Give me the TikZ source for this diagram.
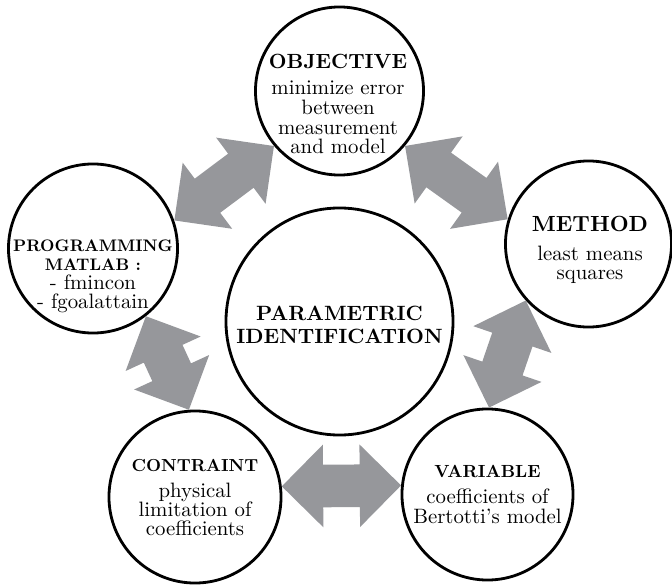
\documentclass[tikz,border=0pt]{standalone}
\usepackage{fontspec}
\setmainfont{lmroman10}[Extension=.otf, UprightFont=*-regular, BoldFont=*-bold]
\usetikzlibrary{shapes.arrows,calc}
\definecolor{arrowgray}{RGB}{150,151,155}
\tikzset{
	bubble/.style={circle, draw, line width=2pt, inner sep=0pt},
	bubbletext/.style={align=center, inner sep=0pt, font=\fontsize{14.8}{13.6}\selectfont},
	twoway/.style={double arrow, fill=arrowgray, inner xsep=0pt, inner ysep=0.525cm,
		minimum width=2.05cm, double arrow head extend=0.5cm, double arrow tip angle=90}
}
\begin{document}
\begin{tikzpicture}[x=0.025cm, y=-0.025cm]
				\useasboundingbox (0,0) rectangle (672,585);
				
				% Círculos
				\node[bubble, minimum size=5.675cm] (ident) at (339.5,321.5) {};
				\node[bubble, minimum size=4.2cm] (obj) at (339.5,91) {};
				\node[bubble, minimum size=4.15cm] (meth) at (588.5,244) {};
				\node[bubble, minimum size=4.225cm] (prog) at (93,248.5) {};
				\node[bubble, minimum size=4.3cm] (cons) at (195,497) {};
				\node[bubble, minimum size=4.275cm] (var) at (487.5,494.5) {};
				
				% Textos
				\node[bubbletext, font=\fontsize{14.7}{16}\selectfont\bfseries] (identtxt) at (339.5,325)
				{PARAMETRIC\\ IDENTIFICATION};
				\node[bubbletext, font=\fontsize{14.8}{14}\selectfont] (objtxt) at (338,104)
				{{\fontsize{14.6}{14}\selectfont\bfseries OBJECTIVE}\\[5pt] minimize error\\ between\\ measurement\\ and model};
				\node[bubbletext, font=\fontsize{14.8}{13.6}\selectfont] (methtxt) at (590,250)
				{{\fontsize{15.6}{14}\selectfont\bfseries METHOD}\\[6.5pt] least means\\ squares};
				\node[bubbletext] (progtxt) at (93,276.5)
				{{\fontsize{11.9}{12}\selectfont\bfseries PROGRAMMING}\\ {\fontsize{11.9}{12}\selectfont\bfseries MATLAB :}\\ - fmincon\\ - fgoalattain};
				\node[bubbletext] (constxt) at (195,497.5)
				{{\fontsize{12.4}{12}\selectfont\bfseries CONTRAINT}\\[5pt] physical\\ limitation of\\ coefficients};
				\node[bubbletext, font=\fontsize{14.8}{14.2}\selectfont] (vartxt) at (487.5,494)
				{{\fontsize{12.5}{12}\selectfont\bfseries VARIABLE}\\[4.3pt] coefficients of\\ Bertotti's model};
				
				% Flechas dobles entre los círculos
				\path let \p1=($(obj.220)-(prog.19)$), \n1={veclen(\x1,\y1)}, \n2={atan2(\y1,\x1)} in
				node[twoway, minimum height=\n1, rotate=\n2] (progobj) at ($(prog.19)!.5!(obj.220)$) {};
				\path let \p1=($(meth.163)-(obj.320)$), \n1={veclen(\x1,\y1)}, \n2={atan2(\y1,\x1)} in
				node[twoway, minimum height=\n1, rotate=\n2] (objmeth) at ($(obj.320)!.5!(meth.163)$) {};
				\path let \p1=($(prog.308)-(cons.94)$), \n1={veclen(\x1,\y1)}, \n2={atan2(\y1,\x1)} in
				node[twoway, minimum height=\n1, rotate=\n2] (consprog) at ($(cons.94)!.5!(prog.308)$) {};
				\path let \p1=($(meth.222)-(var.89)$), \n1={veclen(\x1,\y1)}, \n2={atan2(\y1,\x1)} in
				node[twoway, minimum height=\n1, rotate=\n2] (varmeth) at ($(var.89)!.5!(meth.222)$) {};
				\path let \p1=($(var.174)-(cons.7)$), \n1={veclen(\x1,\y1)}, \n2={atan2(\y1,\x1)} in
				node[twoway, minimum height=\n1, rotate=\n2] (consvar) at ($(cons.7)!.5!(var.174)$) {};
			\end{tikzpicture}
\end{document}
